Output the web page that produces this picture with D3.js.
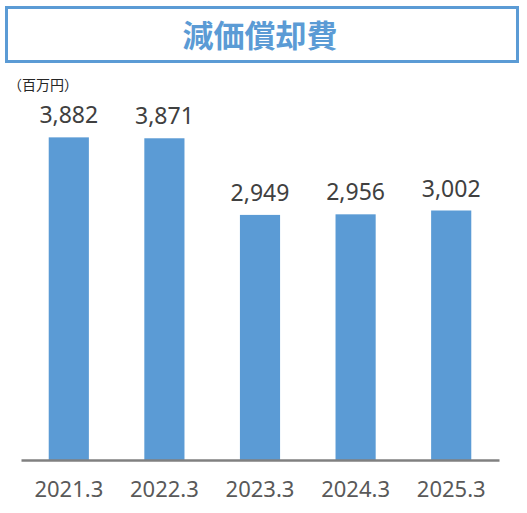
<!DOCTYPE html>
<html>
<head>
<meta charset="utf-8">
<script src="https://cdn.jsdelivr.net/npm/d3@7"></script>
<style>
  body { margin: 0; background: #fff; }
  svg text { font-family: "Noto Sans", "Noto Sans CJK JP", sans-serif; }
</style>
</head>
<body>
<div id="chart"></div>
<script>
/* 減価償却費 bar chart */

const periods = ["2021.3", "2022.3", "2023.3", "2024.3", "2025.3"];
const values = [3882, 3871, 2949, 2956, 3002];
const title = "減価償却費";
const unitLabel = "（百万円）";

const width = 527,
    height = 513,
    margin = ({ top: 86, right: 28, bottom: 53, left: 21 });

const blue = "#5b9bd5";

let svg = d3.select("#chart")
    .append("svg")
    .attr("width", width)
    .attr("height", height);

// title box
svg.append("rect")
    .attr("x", 6.5)
    .attr("y", 7.5)
    .attr("width", 511)
    .attr("height", 54)
    .attr("fill", "none")
    .attr("stroke", blue)
    .attr("stroke-width", 3);

svg.append("text")
    .text(title)
    .attr("x", 260)
    .attr("y", 47)
    .attr("text-anchor", "middle")
    .style("font-family", "'Noto Sans CJK JP', sans-serif")
    .style("font-size", "31px")
    .style("font-weight", "bold")
    .style("fill", blue);

svg.append("text")
    .text(unitLabel)
    .attr("x", 8)
    .attr("y", 90)
    .style("font-family", "'Noto Sans CJK JP', sans-serif")
    .style("font-size", "14px")
    .style("fill", "#262626");

const x = d3.scaleBand()
    .domain(periods)
    .range([margin.left, width - margin.right])
    .paddingInner(0.58)
    .paddingOuter(0.29);

const y = d3.scaleLinear()
    .domain([0, 4500])
    .range([height - margin.bottom, margin.top]);

const data = periods.map((p, i) => ({ period: p, value: values[i] }));

let bar = svg.selectAll(".bar")
    .data(data)
    .join("g")
    .attr("class", "bar");

bar.append("rect")
    .attr("fill", blue)
    .attr("x", d => x(d.period))
    .attr("width", x.bandwidth())
    .attr("y", d => y(d.value))
    .attr("height", d => y(0) - y(d.value));

bar.append("text")
    .text(d => d3.format(",")(d.value))
    .attr("x", d => x(d.period) + x.bandwidth() / 2)
    .attr("y", d => y(d.value) - 14)
    .attr("text-anchor", "middle")
    .style("font-size", "23px")
    .style("fill", "#404040");

// x axis
const xAxis = g => g
    .attr("transform", `translate(0,${y(0)})`)
    .call(d3.axisBottom(x).tickSize(0).tickPadding(21))
    .call(g => g.select(".domain").attr("stroke", "#808080").attr("stroke-width", 2.5))
    .call(g => g.selectAll("text")
        .style("font-family", "'Noto Sans', sans-serif")
        .style("font-size", "22px")
        .style("fill", "#595959"));

svg.append("g").call(xAxis);
</script>
</body>
</html>
